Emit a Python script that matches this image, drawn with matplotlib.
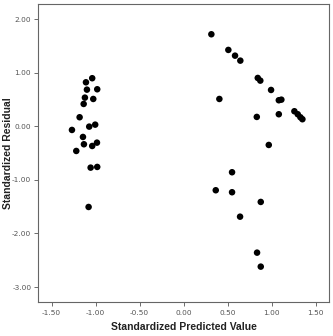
import matplotlib

matplotlib.use("Agg")
import matplotlib.pyplot as plt
import numpy as np

# standardized predicted value / standardized residual
pred_left = [-1.039, -1.110, -1.099, -0.982, -1.122, -1.027, -1.136, -1.182, -1.073, -1.005,
             -1.269, -1.144, -1.133, -1.039, -0.985, -1.220, -1.057, -0.982, -1.080]
resid_left = [0.896, 0.820, 0.683, 0.690, 0.534, 0.509, 0.416, 0.168, -0.007, 0.030,
              -0.069, -0.200, -0.336, -0.368, -0.306, -0.461, -0.772, -0.759, -1.506]
pred_right = [0.314, 0.507, 0.583, 0.643, 0.841, 0.870, 0.992, 1.080, 1.109, 0.405,
              0.830, 1.080, 1.257, 1.295, 1.325, 1.348, 0.966, 0.549, 0.364, 0.549,
              0.875, 0.640, 0.833, 0.875]
resid_right = [1.716, 1.424, 1.317, 1.224, 0.901, 0.851, 0.677, 0.485, 0.496, 0.509,
               0.174, 0.224, 0.280, 0.224, 0.168, 0.131, -0.349, -0.858, -1.194, -1.231,
               -1.412, -1.687, -2.358, -2.619]

x_ticks = [-1.5, -1.0, -0.5, 0.0, 0.5, 1.0, 1.5]
y_ticks = [-3.0, -2.0, -1.0, 0.0, 1.0, 2.0]

pred = np.array(pred_left + pred_right)
resid = np.array(resid_left + resid_right)

fig = plt.figure(figsize=(3.33, 3.36), dpi=100)
ax = fig.add_axes([0.114, 0.101, 0.874, 0.887])
ax.scatter(pred, resid, s=22, c="black", edgecolors="none", zorder=3)

ax.set_xlim(-1.655, 1.65)
ax.set_ylim(-3.28, 2.28)
ax.set_xticks(x_ticks)
ax.set_yticks(y_ticks)
ax.set_xticklabels([f"{v:.2f}" for v in x_ticks])
ax.set_yticklabels([f"{v:.2f}" for v in y_ticks])
ax.tick_params(labelsize=5.3, length=3, width=0.6, colors="#555555", labelcolor="#555555", pad=1.8)
ax.tick_params(axis="x", pad=3)
for sp in ax.spines.values():
    sp.set_color("#666666")
    sp.set_linewidth(0.8)

lab = dict(fontsize=7.5, fontweight="bold", family=["Liberation Sans", "DejaVu Sans"], color="#222222")
ax.set_xlabel("Standardized Predicted Value", labelpad=4, **lab)
ax.set_ylabel("Standardized Residual", va="center", **lab)
ax.yaxis.set_label_coords(-0.104, 0.5)

fig.savefig("out.png", dpi=100)
plt.close(fig)
